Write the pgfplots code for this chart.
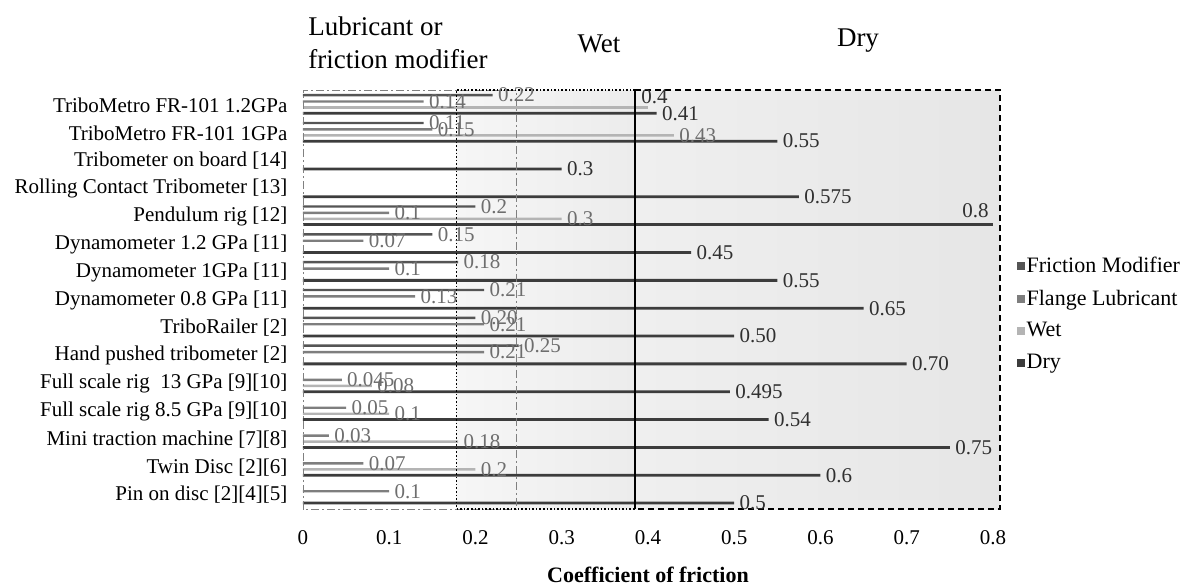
\documentclass[border=0pt]{standalone}
\usepackage{fontspec}
\setmainfont{Liberation Serif}
\usepackage{pgfplots}
\pgfplotsset{compat=1.18}
\usepackage{pgfplotstable}

\definecolor{fmcol}{HTML}{555555}
\definecolor{flcol}{HTML}{7E7E7E}
\definecolor{wetcol}{HTML}{B4B4B4}
\definecolor{drycol}{HTML}{3C3C3C}
\definecolor{labgray}{HTML}{6E6E6E}
\definecolor{labdark}{HTML}{303030}
\definecolor{wetL}{HTML}{F6F6F6}
\definecolor{wetR}{HTML}{ECECEC}
\definecolor{dryL}{HTML}{EFEFEF}
\definecolor{dryR}{HTML}{E6E6E6}

% c = category (0 = Pin on disc, bottom), v = value, l = data label
\pgfplotstableread{
c v l
14 0.22 0.22
13 0.14 0.11
10 0.20 0.2
9 0.15 0.15
8 0.18 0.18
7 0.21 0.21
6 0.20 0.20
5 0.25 0.25
}\fmtab
\pgfplotstableread{
c v l
14 0.14 0.14
13 0.15 0.15
10 0.10 0.1
9 0.07 0.07
8 0.10 0.1
7 0.13 0.13
6 0.21 0.21
5 0.21 0.21
4 0.045 0.045
3 0.05 0.05
2 0.03 0.03
1 0.07 0.07
0 0.10 0.1
}\fltab
\pgfplotstableread{
c v l
13 0.43 0.43
10 0.30 0.3
4 0.08 0.08
3 0.10 0.1
2 0.18 0.18
1 0.20 0.2
}\wettab
\pgfplotstableread{
c v l
14 0.40 0.4
}\wettop
\pgfplotstableread{
c v l
14 0.41 0.41
13 0.55 0.55
12 0.30 0.3
11 0.575 0.575
9 0.45 0.45
8 0.55 0.55
7 0.65 0.65
6 0.50 0.50
5 0.70 0.70
4 0.495 0.495
3 0.54 0.54
2 0.75 0.75
1 0.60 0.6
0 0.50 0.5
}\drytab
\pgfplotstableread{
c v l
10 0.80 0.8
}\drymax

\begin{document}
\begin{tikzpicture}
\useasboundingbox (0,0) rectangle (595pt,292.5pt);
\begin{axis}[
  at={(151.5pt,38pt)}, anchor=south west,
  scale only axis, width=345pt, height=209.5pt,
  xmin=0, xmax=0.8, ymin=-0.5, ymax=14.55,
  clip=false,
  axis line style={draw=none},
  tick style={draw=none},
  xtick={0,0.1,0.2,0.3,0.4,0.5,0.6,0.7,0.8},
  xticklabels={0,0.1,0.2,0.3,0.4,0.5,0.6,0.7,0.8},
  ytick={0,...,14},
  yticklabels={{Pin on disc [2][4][5]},{Twin Disc [2][6]},{Mini traction machine [7][8]},
    {Full scale rig 8.5 GPa [9][10]},{Full scale rig\ \ 13 GPa [9][10]},{Hand pushed tribometer [2]},
    {TriboRailer [2]},{Dynamometer 0.8 GPa [11]},{Dynamometer 1GPa [11]},{Dynamometer 1.2 GPa [11]},
    {Pendulum rig [12]},{Rolling Contact Tribometer [13]},{Tribometer on board [14]},
    {TriboMetro FR-101 1GPa},{TriboMetro FR-101 1.2GPa}},
  xticklabel style={font=\fontsize{10.5}{12}\selectfont, yshift=-7pt},
  yticklabel style={font=\fontsize{10.5}{12}\selectfont, xshift=0pt},
  xlabel={\textbf{Coefficient of friction}},
  xlabel style={at={(rel axis cs:0.5,0)}, anchor=center, yshift=-33pt, font=\fontsize{11}{13}\selectfont},
  xbar, bar width=1.2pt,
  point meta=explicit symbolic,
  nodes near coords,
  nodes near coords align={horizontal},
  nodes near coords style={font=\fontsize{10.5}{12}\selectfont, inner sep=2.5pt, anchor=west},
  legend style={at={(1.025,0.617)}, anchor=north west, draw=none, fill=none,
    font=\fontsize{11}{13}\selectfont, row sep=5.2pt, nodes={inner sep=1pt}},
  legend cell align=left,
  legend image code/.code={\fill[#1] (0pt,-2pt) rectangle (4pt,2pt);},
]
% shaded regions
\fill[left color=wetL, right color=wetR] (axis cs:0.178,-0.5) rectangle (axis cs:0.385,14.55);
\fill[left color=dryL, right color=dryR] (axis cs:0.385,-0.5) rectangle (axis cs:0.808,14.55);

\addplot[fill=fmcol, draw=none, bar shift=5.1pt,
  every node near coord/.append style={text=labgray, anchor=west}]
  table[x=v, y=c, meta=l] {\fmtab};
\addlegendentry{Friction Modifier}
\addplot[fill=flcol, draw=none, bar shift=1.9pt,
  every node near coord/.append style={text=labgray, anchor=west}]
  table[x=v, y=c, meta=l] {\fltab};
\addlegendentry{Flange Lubricant}
\addplot[fill=wetcol, draw=none, bar shift=-1.1pt,
  every node near coord/.append style={text=labgray, anchor=west}]
  table[x=v, y=c, meta=l] {\wettab};
\addlegendentry{Wet}
\addplot[fill=drycol, draw=none, bar shift=-4pt, bar width=1.4pt,
  every node near coord/.append style={text=labdark, anchor=west}]
  table[x=v, y=c, meta=l] {\drytab};
\addlegendentry{Dry}
\addplot[forget plot, fill=wetcol, draw=none, bar shift=-1.1pt,
  every node near coord/.append style={text=labdark, anchor=west, xshift=-6pt, yshift=5.5pt}]
  table[x=v, y=c, meta=l] {\wettop};
\addplot[forget plot, fill=drycol, draw=none, bar shift=-4pt, bar width=1.4pt,
  every node near coord/.append style={text=labdark, anchor=west, xshift=-18pt, yshift=7pt}]
  table[x=v, y=c, meta=l] {\drymax};

% region borders
\draw[gray, dash pattern=on 4pt off 1.5pt on 1pt off 1.5pt]
  (axis cs:0,-0.5) rectangle (axis cs:0.247,14.55);
\draw[black, densely dotted, thick]
  (axis cs:0.385,14.55) -- (axis cs:0.178,14.55) -- (axis cs:0.178,-0.5) -- (axis cs:0.385,-0.5);
\draw[black, densely dashed, thick]
  (axis cs:0.385,14.55) -- (axis cs:0.808,14.55) -- (axis cs:0.808,-0.5) -- (axis cs:0.385,-0.5);
\draw[black, line width=0.8pt] (axis cs:0.385,-0.5) -- (axis cs:0.385,14.55);
\end{axis}
\node[anchor=west, inner sep=0pt, font=\fontsize{13.5}{15}\selectfont] at (154pt,279.5pt) {Lubricant or};
\node[anchor=west, inner sep=0pt, font=\fontsize{13.5}{15}\selectfont] at (154pt,263pt) {friction modifier};
\node[inner sep=0pt, font=\fontsize{13.5}{15}\selectfont] at (299.5pt,270.5pt) {Wet};
\node[inner sep=0pt, font=\fontsize{13.5}{15}\selectfont] at (429pt,272pt) {Dry};
\end{tikzpicture}
\end{document}
